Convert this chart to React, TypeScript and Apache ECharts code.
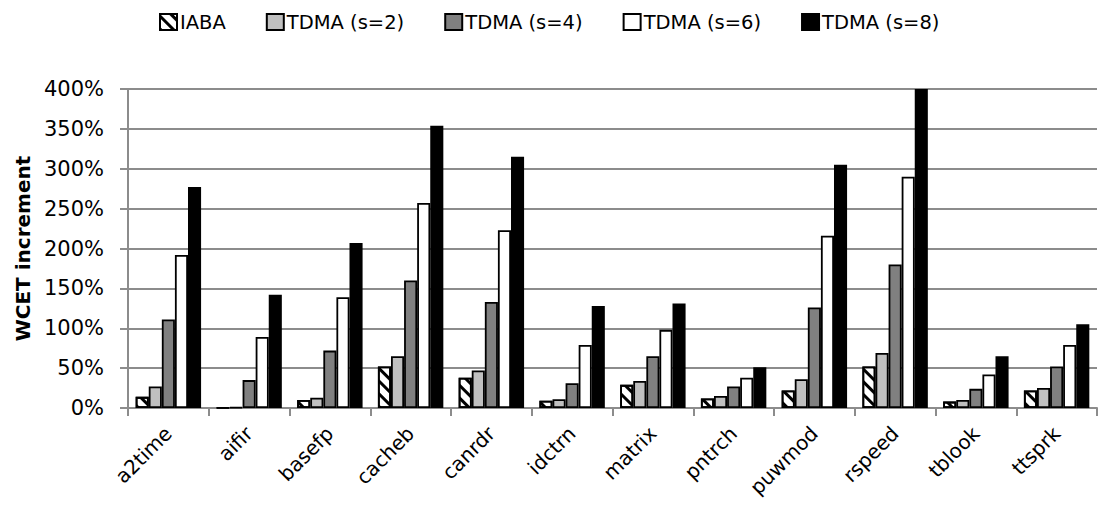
import React, { useEffect, useRef } from "react";
import * as echarts from "echarts";

const categories = ["a2time", "aifir", "basefp", "cacheb", "canrdr", "idctrn", "matrix", "pntrch", "puwmod", "rspeed", "tblook", "ttsprk"];
const seriesNames = ["IABA", "TDMA (s=2)", "TDMA (s=4)", "TDMA (s=6)", "TDMA (s=8)"];
const iaba = [14, 0.5, 10, 52, 38, 9, 29, 12, 22, 52, 8, 22];
const tdma2 = [27, 1, 13, 65, 47, 11, 34, 15, 36, 69, 10, 25];
const tdma4 = [111, 35, 72, 160, 133, 31, 65, 27, 126, 180, 24, 52];
const tdma6 = [192, 89, 139, 257, 223, 79, 98, 38, 216, 290, 42, 79];
const tdma8 = [277, 142, 207, 354, 315, 128, 131, 51, 305, 400, 65, 105];
const yTicks = [0, 50, 100, 150, 200, 250, 300, 350, 400];

const FONT = "DejaVu Sans";

export default function App() {
  const ref = useRef<HTMLDivElement>(null);
  useEffect(() => {
    if (!ref.current) return;
    const chart = echarts.init(ref.current, undefined, { renderer: "svg" });
    const fills = ["#ffffff", "#c0c0c0", "#808080", "#ffffff", "#000000"];
    const data = [iaba, tdma2, tdma4, tdma6, tdma8];
    const series = seriesNames.map((name, i) => {
      const itemStyle: any = { color: fills[i], borderColor: "#000", borderWidth: 1.8 };
      if (i === 0) {
        itemStyle.decal = {
          symbol: "rect",
          symbolSize: 1,
          dashArrayX: [1, 0],
          dashArrayY: [3, 6],
          rotation: Math.PI / 4,
          color: "#000",
          backgroundColor: "#fff",
        };
      }
      return {
        name,
        type: "bar",
        data: data[i],
        barGap: "0%",
        barCategoryGap: "19%",
        itemStyle,
        emphasis: { disabled: true },
      };
    });
    chart.setOption({
      animation: false,
      textStyle: { fontFamily: FONT },
      legend: {
        top: 7,
        left: 154,
        icon: "rect",
        itemWidth: 17,
        itemHeight: 16,
        itemGap: 40,
        textStyle: { fontFamily: FONT, fontSize: 19.5, color: "#000", padding: [0, 0, 0, -2] },
        data: seriesNames,
      },
      grid: { left: 128, right: 8, top: 89, bottom: 108, containLabel: false },
      xAxis: {
        type: "category",
        data: categories,
        axisLine: { lineStyle: { color: "#8c8c8c", width: 2 } },
        axisTick: { show: true, length: 8, lineStyle: { color: "#8c8c8c", width: 2 } },
        axisLabel: { interval: 0, rotate: 45, fontFamily: FONT, fontSize: 20, color: "#000", margin: 22 },
      },
      yAxis: {
        type: "value",
        min: 0,
        max: 400,
        interval: 50,
        name: "WCET increment",
        nameLocation: "middle",
        nameGap: 84,
        nameTextStyle: { fontFamily: FONT, fontSize: 20, fontWeight: "bold", color: "#000" },
        axisLine: { show: true, lineStyle: { color: "#8c8c8c", width: 2 } },
        axisTick: { show: true, length: 8, lineStyle: { color: "#8c8c8c", width: 2 } },
        axisLabel: {
          fontFamily: FONT,
          fontSize: 21,
          color: "#000",
          margin: 24,
          formatter: (v: number) => (yTicks.includes(v) ? v + "%" : ""),
        },
        splitLine: { show: true, lineStyle: { color: "#8c8c8c", width: 2 } },
      },
      series,
    });
    return () => chart.dispose();
  }, []);
  return <div ref={ref} style={{ position: "absolute", left: 0, top: 0, width: 1105, height: 516, background: "#fff" }} />;
}
